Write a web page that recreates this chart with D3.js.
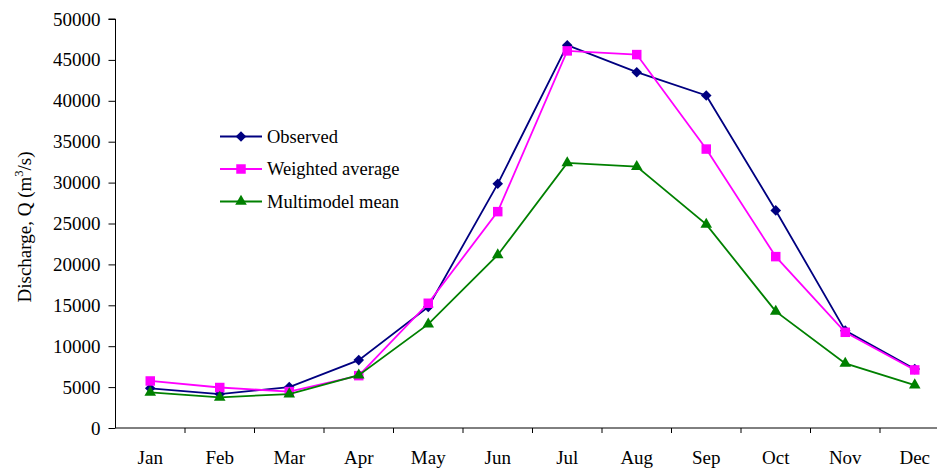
<!DOCTYPE html>
<html>
<head>
<meta charset="utf-8">
<script src="https://cdn.jsdelivr.net/npm/d3@7"></script>
<style>
  html, body { margin: 0; padding: 0; background: #fff; }
  svg { display: block; }
</style>
</head>
<body>
<svg id="chart" width="937" height="468"></svg>
<script>
// Monthly discharge: observed vs. model estimates (m3/s)
const months = ["Jan","Feb","Mar","Apr","May","Jun","Jul","Aug","Sep","Oct","Nov","Dec"];
const observed = [4850, 4150, 5000, 8300, 14800, 29850, 46800, 43500, 40650, 26600, 11900, 7200];
const weightedAverage = [5750, 4950, 4450, 6400, 15250, 26450, 46100, 45650, 34100, 20950, 11700, 7100];
const multimodelMean = [4350, 3750, 4150, 6450, 12700, 21150, 32400, 31950, 24900, 14250, 7900, 5250];
const yTicks = [0, 5000, 10000, 15000, 20000, 25000, 30000, 35000, 40000, 45000, 50000];

const FONT = "'Liberation Serif', 'Times New Roman', 'DejaVu Serif', serif";

// square diamond (a square turned 45 degrees)
const diamondSquare = {
  draw(ctx, size) {
    const r = Math.sqrt(size / 2);
    ctx.moveTo(0, -r); ctx.lineTo(r, 0); ctx.lineTo(0, r); ctx.lineTo(-r, 0); ctx.closePath();
  }
};

const seriesList = [
  { name: "Observed", values: observed, color: "#000080", symbol: diamondSquare, size: 56 },
  { name: "Weighted average", values: weightedAverage, color: "#FF00FF", symbol: d3.symbolSquare, size: 90 },
  { name: "Multimodel mean", values: multimodelMean, color: "#008000", symbol: d3.symbolTriangle, size: 58 }
];

const svg = d3.select("#chart");
const plotLeft = 115.5, plotTop = 19, plotBottom = 428, bandW = 69.5;
const plotRight = plotLeft + bandW * months.length;

const x = d3.scaleBand().domain(months).range([plotLeft, plotRight]).paddingInner(0).paddingOuter(0);
const y = d3.scaleLinear().domain([0, 50000]).range([plotBottom, plotTop]);

// y axis
const yAxis = svg.append("g")
  .attr("transform", `translate(${plotLeft},0)`)
  .call(d3.axisLeft(y).tickValues(yTicks).tickFormat(d3.format("d")).tickSize(7).tickPadding(8));
yAxis.attr("font-family", null).attr("font-size", null);
yAxis.selectAll("text").style("font-family", FONT).style("font-size", "19px").style("fill", "#000");
yAxis.selectAll("line, path").attr("stroke", "#000").attr("stroke-width", 1);
yAxis.select(".domain").attr("d", `M-7,${y(50000)}H0V${plotBottom}`);

// x axis: labels centred in each band, ticks on band boundaries
const xAxis = svg.append("g")
  .attr("transform", `translate(0,${plotBottom})`)
  .call(d3.axisBottom(x).tickSize(0).tickPadding(23));
xAxis.attr("font-family", null).attr("font-size", null);
xAxis.selectAll("text").style("font-family", FONT).style("font-size", "19px").style("fill", "#000");
xAxis.select(".domain").attr("d", `M${plotLeft},0H${plotRight}`).attr("stroke", "#000");
xAxis.selectAll(".boundary")
  .data(months.slice(1))
  .enter().append("line")
  .attr("class", "boundary")
  .attr("x1", d => x(d)).attr("x2", d => x(d))
  .attr("y1", 0).attr("y2", 5)
  .attr("stroke", "#000");

// y axis title
const title = svg.append("text")
  .attr("transform", "translate(31,227) rotate(-90)")
  .attr("text-anchor", "middle")
  .style("font-family", FONT)
  .style("font-size", "19px");
title.append("tspan").text("Discharge, Q (m");
title.append("tspan").attr("dy", -8).style("font-size", "12.5px").text("3");
title.append("tspan").attr("dy", 8).text("/s)");

// series lines and markers
const line = d3.line()
  .x((d, i) => x(months[i]) + x.bandwidth() / 2)
  .y(d => y(d));

seriesList.forEach(s => {
  const g = svg.append("g");
  g.append("path")
    .datum(s.values)
    .attr("d", line)
    .attr("fill", "none")
    .attr("stroke", s.color)
    .attr("stroke-width", 1.8);
  g.selectAll("path.mark")
    .data(s.values)
    .enter().append("path")
    .attr("class", "mark")
    .attr("d", d3.symbol().type(s.symbol).size(s.size))
    .attr("transform", (d, i) => `translate(${x(months[i]) + x.bandwidth() / 2},${y(d)})`)
    .attr("fill", s.color);
});

// legend
const legend = svg.append("g");
seriesList.forEach((s, i) => {
  const ly = 136.5 + i * 32.5;
  legend.append("line")
    .attr("x1", 220).attr("x2", 262).attr("y1", ly).attr("y2", ly)
    .attr("stroke", s.color).attr("stroke-width", 1.8);
  legend.append("path")
    .attr("d", d3.symbol().type(s.symbol).size(s.size))
    .attr("transform", `translate(241,${ly})`)
    .attr("fill", s.color);
  legend.append("text")
    .attr("x", 267).attr("y", ly + 6)
    .style("font-family", FONT)
    .style("font-size", "18.5px")
    .text(s.name);
});
</script>
</body>
</html>
